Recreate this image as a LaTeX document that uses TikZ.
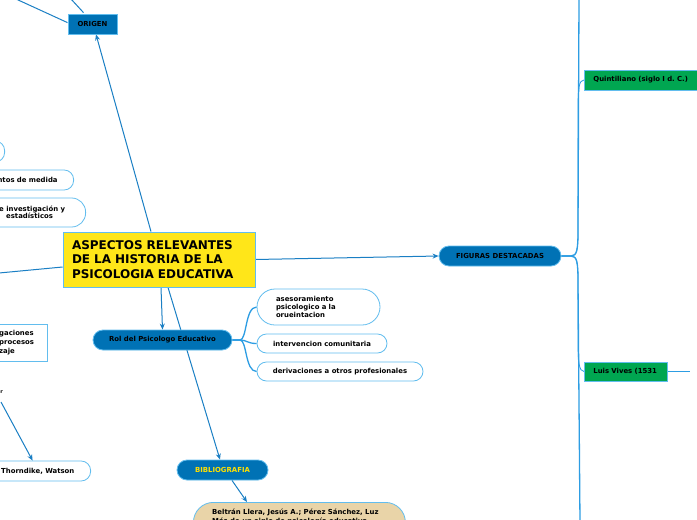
\documentclass[tikz,border=0pt]{standalone}
\usepackage{fontspec}
\setmainfont{DejaVu Sans}
\frenchspacing
\usetikzlibrary{arrows.meta,calc}
\pgfdeclarelayer{back}
\pgfdeclarelayer{bg}
\pgfsetlayers{back,bg,main}
\definecolor{dkblue}{HTML}{0072B5}
\definecolor{edgeblue}{HTML}{62BDEE}
\definecolor{arrblue}{HTML}{1A7FC4}
\definecolor{brblue}{HTML}{2D9DE3}
\definecolor{yel}{HTML}{FFE619}
\definecolor{grn}{HTML}{00A651}
\definecolor{tan}{HTML}{E9D4A8}
\definecolor{fig}{HTML}{FFE000}
\tikzset{
  small/.style={font=\fontsize{6.9}{8}\selectfont\bfseries},
  bluebox/.style={draw=edgeblue,line width=0.8pt,fill=dkblue,small,inner sep=0pt},
  pillw/.style={draw=edgeblue,line width=0.8pt,fill=white,small,inner sep=0pt,rounded corners=9.5pt},
  greenbox/.style={draw=edgeblue,line width=0.8pt,fill=grn,small,inner sep=0pt},
  arr/.style={draw=arrblue,line width=1pt,-{Stealth[length=6pt,width=5pt]}},
  plainline/.style={draw=arrblue,line width=1pt},
  branch/.style={draw=brblue,line width=1.3pt},
}
\begin{document}
\begin{tikzpicture}[x=1pt,y=-1pt]
\useasboundingbox (0,0) rectangle (697,520);
\clip (0,0) rectangle (697,520);
\begin{pgfonlayer}{back}
\fill[white] (0,0) rectangle (697,520);
\end{pgfonlayer}

% ---------- nodes ----------
\node[draw=edgeblue,line width=0.8pt,fill=yel,minimum width=192pt,minimum height=55pt,inner xsep=9pt,inner ysep=0pt,
  text width=174pt,align=left,font=\fontsize{12}{14.5}\selectfont\bfseries] (central) at (159,259.5)
  {ASPECTOS RELEVANTES\\DE LA HISTORIA DE LA\\PSICOLOGIA EDUCATIVA};
\node[bluebox,minimum width=49pt,minimum height=20pt] (origen) at (92.5,24) {ORIGEN};

\node[pillw,minimum width=100pt,minimum height=21pt,anchor=east] (p1) at (5,151.5) {};
\node[pillw,minimum width=114pt,minimum height=20pt,anchor=east,inner xsep=16pt,text width=82pt,align=right] (medida) at (74,180) {ntos de medida};
\node[pillw,rounded corners=14pt,minimum width=130pt,minimum height=29pt,anchor=east] (invest) at (86,212.5) {};
\node[small,align=left,anchor=west,inner sep=0pt,font=\fontsize{6.9}{7.5}\selectfont\bfseries] (investtxt) at (-1,212.5) {e investigación y\\\hspace*{7pt}estadísticos};
\node[draw=edgeblue,line width=0.8pt,fill=white,minimum width=110pt,minimum height=37pt,anchor=east,inner sep=0pt] (gac) at (47.5,343) {};
\node[inner sep=0pt,anchor=west,align=left,font=\fontsize{6.9}{9}\selectfont\bfseries] (gactxt) at (-1,343) {gaciones\\procesos\\zaje};
\node[inner sep=0pt,anchor=east,font=\fontsize{5}{6}\selectfont\bfseries] (rfrag) at (3,392) {r};
\node[pillw,minimum width=130pt,minimum height=20pt,anchor=east] (thorn) at (91,471) {};
\node[small,inner sep=0pt,anchor=west] (thorntxt) at (1,471) {Thorndike, Watson};

\node[bluebox,rounded corners=10pt,minimum width=139pt,minimum height=20pt] (rol) at (162.5,340) {Rol del Psicologo Educativo};
\node[pillw,rounded corners=18pt,minimum width=123pt,minimum height=36pt,inner xsep=19pt,text width=85pt,align=left] (ases) at (318.5,307) {asesoramiento\\psicologico a la\\orueintacion};
\node[pillw,minimum width=130pt,minimum height=19pt] (inter) at (322,343.5) {intervencion comunitaria};
\node[pillw,minimum width=166pt,minimum height=19pt] (deriv) at (340,371.5) {derivaciones a otros profesionales};

\node[bluebox,rounded corners=10pt,minimum width=91pt,minimum height=20pt,text=fig] (biblio) at (222.5,470) {BIBLIOGRAFIA};
\node[draw=edgeblue,line width=0.8pt,fill=tan,rounded corners=20pt,minimum width=212pt,minimum height=60pt,anchor=north west,inner sep=0pt] (bib) at (193,502) {};
\node[inner sep=0pt,anchor=north west,align=left,font=\fontsize{6.9}{8.5}\selectfont\bfseries] (bibtxt) at (212,509) {Beltrán Llera, Jesús A.; Pérez Sánchez, Luz\\Más de un siglo de psicología educativa};

\node[bluebox,rounded corners=10pt,minimum width=122pt,minimum height=20pt] (figuras) at (500,256) {FIGURAS DESTACADAS};
\node[greenbox,minimum width=113pt,minimum height=20pt,anchor=west,inner xsep=9pt,text width=104pt,align=left] (quint) at (584,80) {Quintiliano (siglo I d. C.)};
\node[greenbox,minimum width=83pt,minimum height=19pt,anchor=west,inner xsep=9pt,text width=65pt,align=left] (vives) at (584,371.5) {Luis Vives (1531};

\coordinate (o1) at (16,-1);
\coordinate (o2) at (71,-1);
\coordinate (tstart) at (1,402);
\coordinate (lend) at (-1,273);
\coordinate (ftop) at (579,-2);
\coordinate (fbot) at (580,522);
\coordinate (vend) at (690,371.5);

% ---------- connectors ----------
\begin{pgfonlayer}{bg}
\draw[plainline] ([xshift=-25pt,yshift=-9pt]origen.north) -- (o1);
\draw[plainline] ([xshift=-9pt,yshift=1pt]origen.north) -- (o2);
\draw[arr] ([xshift=-8pt]central.north) -- ([xshift=3.5pt]origen.south);
\draw[arr] (tstart) -- ([xshift=7pt]thorn.north);
\draw[plainline] ([yshift=-7.5pt]central.west) -- (lend);
\draw[arr] ([xshift=2pt]central.south) -- (rol.north);
\draw[branch] (rol.east) -- (240,340) .. controls (247,340) and (245,307) .. (ases.west);
\draw[branch] (rol.east) -- (240,340) .. controls (247,340) and (247,343.5) .. (inter.west);
\draw[branch] (rol.east) -- (240,340) .. controls (247,340) and (245,371.5) .. (deriv.west);
\draw[arr] ([xshift=9pt]central.south) -- ([xshift=-2.5pt]biblio.north);
\draw[arr] ([xshift=9.5pt]biblio.south) -- ([xshift=54pt]bib.north west);
\draw[arr] (central.east) -- (figuras.west);
\draw[branch] (figuras.east) -- (571,256) .. controls (577,256) and (578,250) .. (578,230) -- (ftop);
\draw[branch] (figuras.east) -- (571,256) .. controls (577,256) and (578,262) .. (578,282) -- (fbot);
\draw[branch,line width=0.8pt] (figuras.east) -- (571,256) .. controls (577,256) and (578,250) .. (578,230) -- (578,110) .. controls (578,88) and (579,80) .. (quint.west);
\draw[branch,line width=0.8pt] (figuras.east) -- (571,256) .. controls (577,256) and (578,262) .. (578,282) -- (578,340) .. controls (578,362) and (579,371.5) .. (vives.west);
\draw[branch,line width=0.8pt] (vives.east) -- (vend);
\end{pgfonlayer}
\end{tikzpicture}
\end{document}
